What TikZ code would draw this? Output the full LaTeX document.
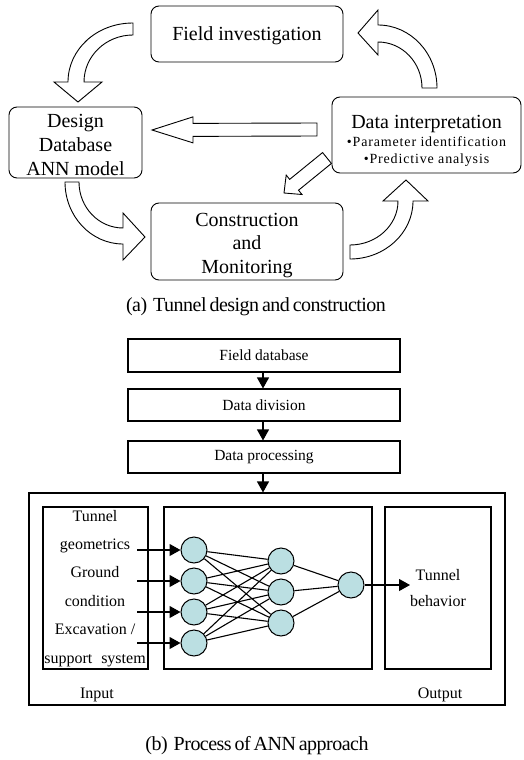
\documentclass[tikz,border=0pt]{standalone}
\usepackage{fontspec}
\setmainfont{Liberation Serif}
\newfontfamily\capfont[LetterSpace=-2.6,WordSpace=0.65]{Liberation Serif}
\newfontfamily\widefont[LetterSpace=6.0]{Liberation Serif}
\usetikzlibrary{arrows.meta,calc}
\definecolor{nfill}{RGB}{187,223,226}

\tikzset{
  rbox/.style={draw, rounded corners=8pt, line width=0.9pt, inner sep=0pt},
  sbox/.style={draw, line width=1.1pt, inner sep=0pt},
  blk/.style={draw, line width=0.9pt, fill=white, line join=miter},
  big/.style={font=\fontsize{20}{23.8}\selectfont, align=center, inner sep=0pt},
  small/.style={font=\widefont\fontsize{14}{17}\selectfont, align=center, inner sep=0pt},
  lbl/.style={font=\fontsize{16}{28.4}\selectfont, align=center, inner sep=0pt},
  boxtext/.style={font=\fontsize{15.5}{18}\selectfont},
  caption/.style={font=\capfont\fontsize{20}{24}\selectfont, inner sep=0pt, anchor=base},
  neuron/.style={circle, draw, fill=nfill, line width=1pt, minimum size=26pt, inner sep=0pt},
  flow/.style={-{Triangle[width=12pt,length=11pt]}, line width=1.1pt},
  syn/.style={line width=1.1pt},
}

\begin{document}
\begin{tikzpicture}[x=1pt,y=-1pt]
\useasboundingbox (0,0) rectangle (524,760);

% ---------- (a) design / construction cycle ----------
\node[rbox, minimum width=192pt, minimum height=56pt] (fi) at (247,34) {};
\node[big] (fi-t) at (247,36) {Field investigation};

\node[rbox, minimum width=133pt, minimum height=71pt] (des) at (75.5,142.5) {};
\node[big] (des-t) at (75.5,145) {Design\\Database\\ANN model};

\node[rbox, minimum width=189pt, minimum height=76pt] (di) at (426.5,135) {};
\node[big, anchor=base] (di-t) at (426.5,128) {Data interpretation};
\node[small] (di-s) at (426.5,151.2) {\textbullet Parameter identification\\\textbullet Predictive analysis};

\node[rbox, minimum width=192pt, minimum height=77pt] (cm) at (247,241.5) {};
\node[big] (cm-t) at (247,245.5) {Construction\\and\\Monitoring};

% curved block arrows
\draw[blk] (133,23) .. controls (96.6,23) and (68,49.4) .. (68,82) -- (54,82) -- (78,102)
  -- (102,82) -- (84,82) .. controls (84,56) and (106,35) .. (133,35) -- cycle;
\draw[blk] (437,88) .. controls (437,53.2) and (410.6,25) .. (378,25) -- (378,10) -- (358,33)
  -- (378,55) -- (378,42) .. controls (402.3,42) and (422,62.6) .. (422,88) -- cycle;
\draw[blk] (65,182) .. controls (65,216.2) and (91,244) .. (123,244) -- (123,260) -- (145,237)
  -- (123,213) -- (123,228) .. controls (98.7,228) and (79,207.4) .. (79,182) -- cycle;
\draw[blk] (350,259) .. controls (384.8,259) and (413,233) .. (413,201) -- (428,201) -- (406,180)
  -- (383,201) -- (398,201) .. controls (398,225.3) and (376.5,245) .. (350,245) -- cycle;

% straight block arrows
\coordinate (la-t) at (317,129.5);
\coordinate (la-p) at (152,130);
\coordinate (la-h) at ($(la-p)!41pt!(la-t)$);
\draw[blk] ($(la-t)!6.5pt!90:(la-p)$) -- ($(la-h)!6.5pt!-90:(la-t)$) -- ($(la-h)!13pt!-90:(la-t)$)
  -- (la-p) -- ($(la-h)!13pt!90:(la-t)$) -- ($(la-h)!6.5pt!90:(la-t)$) -- ($(la-t)!6.5pt!-90:(la-p)$) -- cycle;

\coordinate (da-t) at (327,158);
\coordinate (da-p) at (284,193);
\coordinate (da-h) at ($(da-p)!13pt!(da-t)$);
\draw[blk] ($(da-t)!7pt!90:(da-p)$) -- ($(da-h)!7pt!-90:(da-t)$) -- ($(da-h)!12.5pt!-90:(da-t)$)
  -- (da-p) -- ($(da-h)!12.5pt!90:(da-t)$) -- ($(da-h)!7pt!90:(da-t)$) -- ($(da-t)!7pt!-90:(da-p)$) -- cycle;

\node[caption] (cap-a) at (256,311) {(a)\hspace{6pt}Tunnel design and construction};

% ---------- (b) ANN process ----------
\node[sbox, boxtext, minimum width=272pt, minimum height=33pt] (fdb) at (264,355.5) {Field database};
\node[sbox, boxtext, minimum width=272pt, minimum height=32pt] (ddv) at (264,405) {Data division};
\node[sbox, boxtext, minimum width=272pt, minimum height=32pt] (dpr) at (264,457) {Data processing};

\node[sbox, minimum width=476pt, minimum height=212pt] (ann) at (267,599) {};
\node[sbox, minimum width=105pt, minimum height=162pt] (inp) at (95.5,588) {};
\node[sbox, minimum width=208pt, minimum height=162pt] (net) at (268,588) {};
\node[sbox, minimum width=106pt, minimum height=162pt] (outb) at (438,588) {};

\draw[flow] (fdb.south -| 263,0) -- (ddv.north -| 263,0);
\draw[flow] (ddv.south -| 263,0) -- (dpr.north -| 263,0);
\draw[flow] (dpr.south -| 263,0) -- (ann.north -| 263,0);

\node[lbl] (in-t) at (95,588.3) {Tunnel\\geometrics\\Ground\\condition\\Excavation /\\support\hspace{9pt}system};
\node[lbl, anchor=base] (in-l) at (97,698) {Input};
\node[lbl, anchor=base] (out-l) at (440,698) {Output};
\node[lbl, font=\fontsize{16}{26}\selectfont] (out-t) at (438,588.5) {Tunnel\\behavior};

% neurons
\foreach \i/\y in {1/550,2/581,3/612,4/643}
  \node[neuron] (i\i) at (194,\y) {};
\foreach \j/\y in {1/561,2/592,3/623}
  \node[neuron] (h\j) at (281,\y) {};
\node[neuron] (o1) at (351,585) {};

\foreach \i in {1,...,4}
  \foreach \j in {1,2,3}
    \draw[syn] (i\i) -- (h\j);
\foreach \j in {1,2,3}
  \draw[syn] (h\j) -- (o1);

% input and output arrows
\foreach \i/\y in {1/550,2/581,3/612,4/643}{
  \coordinate (s\i) at (137,\y);
  \draw[flow] (s\i) -- (i\i);
}
\coordinate (res) at (410,585);
\draw[flow] (o1) -- (res);

\node[caption] (cap-b) at (257,750) {(b)\hspace{6pt}Process of ANN approach};
\end{tikzpicture}
\end{document}
